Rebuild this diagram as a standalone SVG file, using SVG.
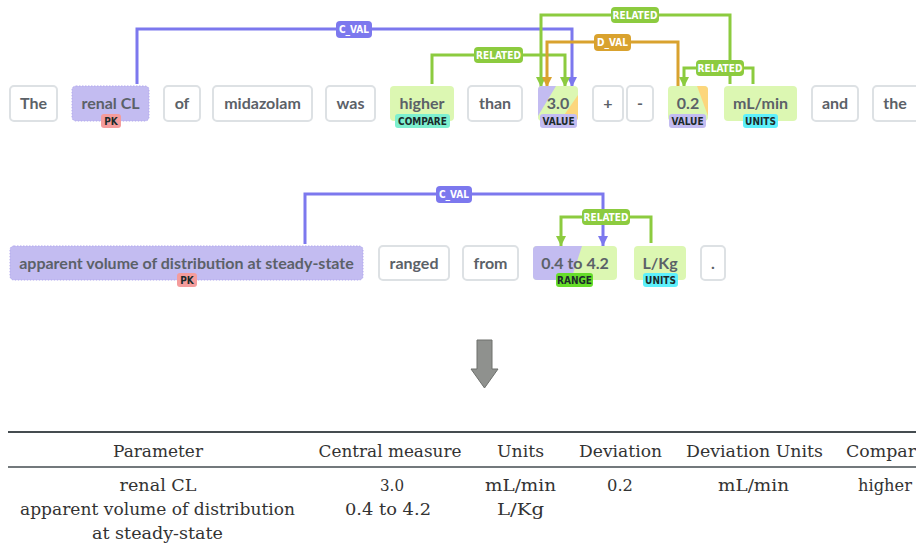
<svg xmlns="http://www.w3.org/2000/svg" width="916" height="549" viewBox="0 0 916 549">
<defs>
<style>
.tok{fill:#fff;stroke:#dde1e4;stroke-width:2}
.tt{font-family:Lato,"Open Sans",sans-serif;font-weight:bold;font-size:16px;fill:#5b6168;text-anchor:middle}
.pur{fill:#c3bcf1}
.grn{fill:#dcf7b2}
.yel{fill:#fcd67c}
.bd{font-family:"DejaVu Sans Condensed","DejaVu Sans",sans-serif;font-weight:bold;font-size:10px;fill:#1c2b2b;text-anchor:middle}
.lp{fill:none;stroke:#7c78ee;stroke-width:3}
.lg{fill:none;stroke:#8ccb3f;stroke-width:3}
.lo{fill:none;stroke:#d9a22e;stroke-width:3}
.lb{font-family:"DejaVu Sans Condensed","DejaVu Sans",sans-serif;font-weight:bold;font-size:10px;fill:#fff;text-anchor:middle}
.tb{font-family:"DejaVu Serif","Liberation Serif",serif;font-size:17px;fill:#333;text-anchor:middle}
.tbs{font-family:"DejaVu Serif","Liberation Serif",serif;font-size:17px;fill:#333;text-anchor:start}
</style>
<marker id="ap" viewBox="0 0 10 10" refX="10" refY="5" markerWidth="10" markerHeight="10" markerUnits="userSpaceOnUse" orient="auto"><path d="M0,0 L10,5 L0,10 z" fill="#7c78ee"/></marker>
<marker id="ag" viewBox="0 0 10 10" refX="10" refY="5" markerWidth="10" markerHeight="10" markerUnits="userSpaceOnUse" orient="auto"><path d="M0,0 L10,5 L0,10 z" fill="#8ccb3f"/></marker>
<marker id="ao" viewBox="0 0 10 10" refX="10" refY="5" markerWidth="10" markerHeight="10" markerUnits="userSpaceOnUse" orient="auto"><path d="M0,0 L10,5 L0,10 z" fill="#d9a22e"/></marker>
<clipPath id="c30"><rect x="538" y="86" width="40" height="35" rx="4"/></clipPath>
<clipPath id="c02"><rect x="668" y="86" width="40" height="35" rx="4"/></clipPath>
<clipPath id="crg"><rect x="533" y="246" width="84" height="34" rx="4"/></clipPath>
</defs>
<rect width="916" height="549" fill="#fff"/>

<!-- connectors -->
<g id="connectors">
<path class="lp" d="M137,84 V29 H572 V87" marker-end="url(#ap)"/>
<path class="lg" d="M432,84 V55 H565 V87" marker-end="url(#ag)"/>
<path class="lg" d="M730,84 V15 H541 V87" marker-end="url(#ag)"/>
<path class="lo" d="M678,86 V42 H547 V87" marker-end="url(#ao)"/>
<path class="lg" d="M753,84 V68 H684 V87" marker-end="url(#ag)"/>
<path class="lp" d="M305,244 V194 H603 V246" marker-end="url(#ap)"/>
<path class="lg" d="M651,243 V217 H561 V246" marker-end="url(#ag)"/>
<g id="labels">
<rect x="336" y="21" width="36" height="17" rx="4" fill="#7c78ee"/><text class="lb" x="354" y="32.5">C_VAL</text>
<rect x="474" y="47" width="49" height="16" rx="4" fill="#8ccb3f"/><text class="lb" x="498.5" y="58.5">RELATED</text>
<rect x="611" y="7" width="48" height="16" rx="4" fill="#8ccb3f"/><text class="lb" x="635" y="18.5">RELATED</text>
<rect x="594" y="34" width="37" height="17" rx="4" fill="#d9a22e"/><text class="lb" x="612.5" y="45.5">D_VAL</text>
<rect x="696" y="60" width="48" height="16" rx="4" fill="#8ccb3f"/><text class="lb" x="720" y="71.5">RELATED</text>
<rect x="436" y="186" width="36" height="17" rx="4" fill="#7c78ee"/><text class="lb" x="454" y="197.5">C_VAL</text>
<rect x="582" y="209" width="48" height="16" rx="4" fill="#8ccb3f"/><text class="lb" x="606" y="220.5">RELATED</text>
</g>
</g>

<!-- row 1 tokens -->
<g id="t-the"><rect class="tok" x="10" y="86" width="47" height="35" rx="4"/><text class="tt" x="33.5" y="109">The</text></g>
<g id="t-renal"><rect class="pur" x="72" y="86" width="77" height="35" rx="4" stroke="#b2a9ee" stroke-dasharray="1.5,1.5"/><text class="tt" x="110.5" y="109">renal CL</text>
<rect x="101" y="114" width="20" height="14" rx="3" fill="#f49c9c"/><text class="bd" x="111" y="125">PK</text></g>
<g id="t-of"><rect class="tok" x="164" y="86" width="36" height="35" rx="4"/><text class="tt" x="182" y="109">of</text></g>
<g id="t-midazolam"><rect class="tok" x="213" y="86" width="99" height="35" rx="4"/><text class="tt" x="262.5" y="109">midazolam</text></g>
<g id="t-was"><rect class="tok" x="326" y="86" width="49" height="35" rx="4"/><text class="tt" x="350.5" y="109">was</text></g>
<g id="t-higher"><rect class="grn" x="390" y="86" width="64" height="35" rx="4"/><text class="tt" x="422" y="109">higher</text>
<rect x="395" y="114" width="55" height="14" rx="3" fill="#7eefcf"/><text class="bd" x="422.5" y="125">COMPARE</text></g>
<g id="t-than"><rect class="tok" x="468" y="86" width="54" height="35" rx="4"/><text class="tt" x="495" y="109">than</text></g>
<g id="t-30"><g clip-path="url(#c30)"><rect class="grn" x="538" y="86" width="40" height="35"/><polygon class="pur" points="538,86 556,86 538,116"/><polygon class="yel" points="578,95 578,121 560,121"/></g>
<text class="tt" x="558" y="109">3.0</text>
<rect x="540" y="114" width="37" height="14" rx="3" fill="#c3bcf1"/><text class="bd" x="558.5" y="125">VALUE</text></g>
<g id="t-plus"><rect class="tok" x="593" y="86" width="30" height="35" rx="4"/><text class="tt" x="608" y="109">+</text></g>
<g id="t-minus"><rect class="tok" x="627" y="86" width="26" height="35" rx="4"/><text class="tt" x="640" y="109">-</text></g>
<g id="t-02"><g clip-path="url(#c02)"><rect class="grn" x="668" y="86" width="40" height="35"/><polygon class="yel" points="697,86 708,86 708,116"/></g>
<text class="tt" x="688" y="109">0.2</text>
<rect x="669" y="114" width="37" height="14" rx="3" fill="#c3bcf1"/><text class="bd" x="687.5" y="125">VALUE</text></g>
<g id="t-mlmin"><rect class="grn" x="724" y="86" width="73" height="35" rx="4"/><text class="tt" x="760.5" y="109">mL/min</text>
<rect x="743" y="114" width="35" height="14" rx="3" fill="#5ef0fb"/><text class="bd" x="760.5" y="125">UNITS</text></g>
<g id="t-and"><rect class="tok" x="812" y="86" width="46" height="35" rx="4"/><text class="tt" x="835" y="109">and</text></g>
<g id="t-the2"><rect class="tok" x="873" y="86" width="46" height="35" rx="4"/><text class="tt" x="895" y="109">the</text></g>

<!-- row 2 tokens -->
<g id="t-avd"><rect class="pur" x="10" y="246" width="353" height="34" rx="4" stroke="#b2a9ee" stroke-dasharray="1.5,1.5"/><text class="tt" x="186.5" y="268.5">apparent volume of distribution at steady-state</text>
<rect x="177" y="273" width="20" height="14" rx="3" fill="#f49c9c"/><text class="bd" x="187" y="284">PK</text></g>
<g id="t-ranged"><rect class="tok" x="379" y="246" width="70" height="34" rx="4"/><text class="tt" x="414" y="268.5">ranged</text></g>
<g id="t-from"><rect class="tok" x="463" y="246" width="55" height="34" rx="4"/><text class="tt" x="490.5" y="268.5">from</text></g>
<g id="t-range"><g clip-path="url(#crg)"><rect class="grn" x="533" y="246" width="84" height="34"/><polygon class="pur" points="533,246 582,246 571,280 533,280"/></g>
<text class="tt" x="575" y="268.5">0.4 to 4.2</text>
<rect x="556" y="273" width="37" height="14" rx="3" fill="#66dd2a"/><text class="bd" x="574.5" y="284">RANGE</text></g>
<g id="t-lkg"><rect class="grn" x="634" y="246" width="52" height="34" rx="4"/><text class="tt" x="660" y="268.5">L/Kg</text>
<rect x="643" y="273" width="35" height="14" rx="3" fill="#5ef0fb"/><text class="bd" x="660.5" y="284">UNITS</text></g>
<g id="t-dot"><rect class="tok" x="701" y="246" width="24" height="34" rx="4"/><text class="tt" x="713" y="268.5">.</text></g>

<!-- down arrow -->
<g id="down-arrow"><polygon points="477,340 492,340 492,369 498,369 484.5,388 471,369 477,369" fill="#8f918e" stroke="#6e706d" stroke-width="1"/></g>

<!-- table -->
<g id="table">
<line x1="8" y1="432" x2="916" y2="432" stroke="#454c50" stroke-width="2"/>
<line x1="8" y1="467" x2="916" y2="467" stroke="#454c50" stroke-width="1.5"/>
<text class="tb" x="158" y="457" textLength="90" lengthAdjust="spacingAndGlyphs">Parameter</text>
<text class="tb" x="390" y="457" textLength="143" lengthAdjust="spacingAndGlyphs">Central measure</text>
<text class="tb" x="520.5" y="457" textLength="47" lengthAdjust="spacingAndGlyphs">Units</text>
<text class="tb" x="620.5" y="457" textLength="83" lengthAdjust="spacingAndGlyphs">Deviation</text>
<text class="tb" x="754.5" y="457" textLength="137" lengthAdjust="spacingAndGlyphs">Deviation Units</text>
<text class="tbs" x="846" y="457" textLength="70" lengthAdjust="spacingAndGlyphs">Compar</text>
<text class="tb" x="158" y="491" textLength="77" lengthAdjust="spacingAndGlyphs">renal CL</text>
<text class="tb" x="392" y="491" textLength="24" lengthAdjust="spacingAndGlyphs">3.0</text>
<text class="tb" x="520.5" y="491" textLength="71" lengthAdjust="spacingAndGlyphs">mL/min</text>
<text class="tb" x="620" y="491" textLength="26" lengthAdjust="spacingAndGlyphs">0.2</text>
<text class="tb" x="753.5" y="491" textLength="71" lengthAdjust="spacingAndGlyphs">mL/min</text>
<text class="tb" x="885" y="491" textLength="54" lengthAdjust="spacingAndGlyphs">higher</text>
<text class="tb" x="157.5" y="515" textLength="275" lengthAdjust="spacingAndGlyphs">apparent volume of distribution</text>
<text class="tb" x="388" y="515" textLength="86" lengthAdjust="spacingAndGlyphs">0.4 to 4.2</text>
<text class="tb" x="520.5" y="515" textLength="47" lengthAdjust="spacingAndGlyphs">L/Kg</text>
<text class="tb" x="157.5" y="539" textLength="131" lengthAdjust="spacingAndGlyphs">at steady-state</text>
</g>
</svg>
